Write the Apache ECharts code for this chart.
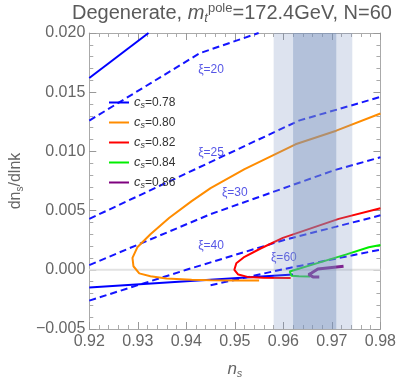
<!DOCTYPE html>
<html>
<head>
<meta charset="utf-8">
<script src="https://cdn.jsdelivr.net/npm/echarts@6/dist/echarts.min.js"></script>
<style>
  html, body { margin: 0; padding: 0; background: #fff; }
  #main { width: 399px; height: 384px; }
</style>
</head>
<body>
<div id="main"></div>
<script>
// c_s curves, points are [n_s, dn_s/dlnk]
var cs078Upper = [[0.92, 0.0162], [0.9322, 0.0200]];
var cs078Lower = [[0.92, -0.0015], [0.94, -0.00096], [0.962, -0.0004]];
var cs080 = [[0.98, 0.0132], [0.9709, 0.01175], [0.9625, 0.0106], [0.952, 0.0085], [0.945, 0.0069],
  [0.9411, 0.0058], [0.9365, 0.0044], [0.9326, 0.0030], [0.9299, 0.0019], [0.9289, 0.0010],
  [0.9291, 0.0003], [0.9303, -0.0003], [0.9326, -0.00054], [0.9359, -0.00074], [0.9411, -0.00085],
  [0.945, -0.00088], [0.950, -0.0009], [0.955, -0.0009]];
var cs082 = [[0.98, 0.0052], [0.9714, 0.0043], [0.9599, 0.0027], [0.9553, 0.0018], [0.9520, 0.0011],
  [0.9503, 0.00055], [0.9499, 0.0], [0.9507, -0.0004], [0.9526, -0.0006], [0.9559, -0.00068], [0.9615, -0.0007]];
var cs084 = [[0.98, 0.0021], [0.9776, 0.0019], [0.9730, 0.0013], [0.9665, 0.0005], [0.9625, 0.0],
  [0.9613, -0.00015], [0.9611, -0.0003], [0.9617, -0.0005], [0.9632, -0.00055], [0.9655, -0.00057]];
var cs086 = [[0.9724, 0.0003], [0.9671, 0.00006], [0.9658, -0.00027], [0.9652, -0.0004],
  [0.9661, -0.0006], [0.9674, -0.0006]];

// xi contours (dashed)
var xi20 = [[0.92, 0.0126], [0.9428, 0.0183], [0.9549, 0.0200]];
var xi25 = [[0.92, 0.0043], [0.9632, 0.0126], [0.98, 0.0146]];
var xi30 = [[0.92, 0.0004], [0.945, 0.0047], [0.956, 0.0063], [0.9704, 0.0084], [0.98, 0.0095]];
var xi40 = [[0.92, -0.0026], [0.94, 0.0], [0.96, 0.0025], [0.98, 0.0046]];
var xi60 = [[0.945, -0.0013], [0.96, 0.00005], [0.98, 0.0017]];
var xiLabels = ['ξ=20', 'ξ=25', 'ξ=30', 'ξ=40', 'ξ=60'];
var xiLabelPos = [[0.9451, 0.0169], [0.9451, 0.0099], [0.95, 0.0065], [0.9451, 0.0020], [0.9601, 0.0010]];

// Planck bands in n_s
var bands = [[0.958, 0.9742], [0.962, 0.9709]];
var bandFill = ['rgba(120,145,190,0.25)', 'rgba(120,145,190,0.41)'];

var legendNames = ['cs=0.78', 'cs=0.80', 'cs=0.82', 'cs=0.84', 'cs=0.86'];
var csColors = ['#0000ff', '#ff8c00', '#ff0000', '#00ee00', '#800080'];

var xMin = 0.92, xMax = 0.98, yMin = -0.005, yMax = 0.02;
var FONT = 'Liberation Sans';
var GRAY = '#666';

var myChart = echarts.init(document.getElementById('main'));

function csSeries(name, data, color, width) {
  return {
    name: name, type: 'line', data: data, symbol: 'none', smooth: false,
    lineStyle: { color: color, width: width || 2 }, itemStyle: { color: color },
    z: 3, animation: false
  };
}
function xiSeries(data) {
  return {
    type: 'line', data: data, symbol: 'none',
    lineStyle: { color: '#1414ff', width: 2, type: [7, 4] },
    z: 2, animation: false, silent: true
  };
}

var series = [
  {
    type: 'line', data: [[xMin, 0], [xMax, 0]], symbol: 'none',
    lineStyle: { color: '#e2e2e2', width: 2 }, z: 1, animation: false, silent: true
  },
  xiSeries(xi20), xiSeries(xi25), xiSeries(xi30), xiSeries(xi40), xiSeries(xi60),
  csSeries(legendNames[0], cs078Upper, csColors[0]),
  csSeries(legendNames[0], cs078Lower, csColors[0]),
  csSeries(legendNames[1], cs080, csColors[1]),
  csSeries(legendNames[2], cs082, csColors[2]),
  csSeries(legendNames[3], cs084, csColors[3]),
  csSeries(legendNames[4], cs086, csColors[4], 3),
  {
    type: 'scatter', symbolSize: 0, silent: true, animation: false, z: 4,
    data: xiLabelPos.map(function (p, i) { return { value: p, name: xiLabels[i] }; }),
    label: {
      show: true, position: 'inside', formatter: '{b}',
      color: '#2a2ae0', fontSize: 12, fontFamily: FONT
    }
  },
  {
    type: 'custom', z: 10, silent: true, animation: false,
    data: bands.map(function (b) { return [b[0], b[1], yMin, yMax]; }),
    encode: { x: [0, 1], y: [2, 3] },
    renderItem: function (params, api) {
      var p0 = api.coord([api.value(0), api.value(3)]);
      var p1 = api.coord([api.value(1), api.value(2)]);
      return {
        type: 'rect',
        shape: { x: p0[0], y: p0[1], width: p1[0] - p0[0], height: p1[1] - p0[1] },
        style: { fill: bandFill[params.dataIndex] }
      };
    }
  }
];

var frameAxis = {
  axisLine: { show: true, onZero: false, lineStyle: { color: '#aaa', width: 1 } },
  axisTick: { show: true, inside: true, length: 7, lineStyle: { color: '#999' } },
  minorTick: { show: true, splitNumber: 5, length: 4, lineStyle: { color: '#aaa' } },
  splitLine: { show: false }
};

myChart.setOption({
  animation: false,
  backgroundColor: '#fff',
  grid: { left: 78, right: 16, top: 33, bottom: 47 },
  graphic: [{
    type: 'text', left: 72, top: 2,
    style: {
      text: 'Degenerate, {it|m}{sub|t}{sup|pole}=172.4GeV, N=60',
      fill: '#5a5a5a', fontSize: 20, fontFamily: FONT,
      rich: {
        it: { fontStyle: 'italic', fontSize: 20, fontFamily: FONT, fill: '#5a5a5a' },
        sub: { fontStyle: 'italic', fontSize: 13, fontFamily: FONT, fill: '#5a5a5a', padding: [10, 0, 0, 0] },
        sup: { fontSize: 13, fontFamily: FONT, fill: '#5a5a5a', padding: [0, 0, 10, 0] }
      }
    }
  }],
  legend: {
    data: legendNames,
    orient: 'vertical', left: 104, top: 91,
    icon: 'rect', itemWidth: 20, itemHeight: 2, itemGap: 6,
    formatter: function (name) { return '{c|c}{s|s}{v|=' + name.split('=')[1] + '}'; },
    textStyle: {
      color: '#333', fontSize: 12, fontFamily: FONT,
      rich: {
        c: { fontStyle: 'italic', fontSize: 13, fontFamily: FONT, color: '#333' },
        s: { fontStyle: 'italic', fontSize: 9, fontFamily: FONT, color: '#333', padding: [6, 0, 0, 0] },
        v: { fontSize: 12, fontFamily: FONT, color: '#333' }
      }
    }
  },
  xAxis: [
    Object.assign({
      type: 'value', min: xMin, max: xMax, interval: 0.01, position: 'bottom',
      name: '{i|n}{s|s}', nameLocation: 'middle', nameGap: 31,
      nameTextStyle: {
        color: GRAY, fontSize: 17, fontFamily: FONT,
        rich: {
          i: { fontStyle: 'italic', fontSize: 17, fontFamily: FONT, color: GRAY },
          s: { fontStyle: 'italic', fontSize: 11, fontFamily: FONT, color: GRAY, padding: [8, 0, 0, 0] }
        }
      },
      axisLabel: { color: GRAY, fontSize: 16, fontFamily: FONT, margin: 5,
        formatter: function (v) { return v.toFixed(2); } }
    }, frameAxis),
    Object.assign({
      type: 'value', min: xMin, max: xMax, interval: 0.01, position: 'top',
      axisLabel: { show: false }
    }, frameAxis)
  ],
  yAxis: [
    Object.assign({
      type: 'value', min: yMin, max: yMax, interval: 0.005, position: 'left',
      name: 'dn{s|s}/dlnk', nameLocation: 'middle', nameGap: 60, nameRotate: 90,
      nameTextStyle: {
        color: GRAY, fontSize: 16, fontFamily: FONT,
        rich: {
          s: { fontSize: 10, fontFamily: FONT, color: GRAY, padding: [8, 0, 0, 0] }
        }
      },
      axisLabel: { color: GRAY, fontSize: 16, fontFamily: FONT, margin: 4,
        formatter: function (v) {
          var s = Math.abs(v).toFixed(3);
          return v < -1e-9 ? '\u2212' + s : s;
        } }
    }, frameAxis),
    Object.assign({
      type: 'value', min: yMin, max: yMax, interval: 0.005, position: 'right',
      axisLabel: { show: false }
    }, frameAxis)
  ],
  series: series
});
</script>
</body>
</html>
